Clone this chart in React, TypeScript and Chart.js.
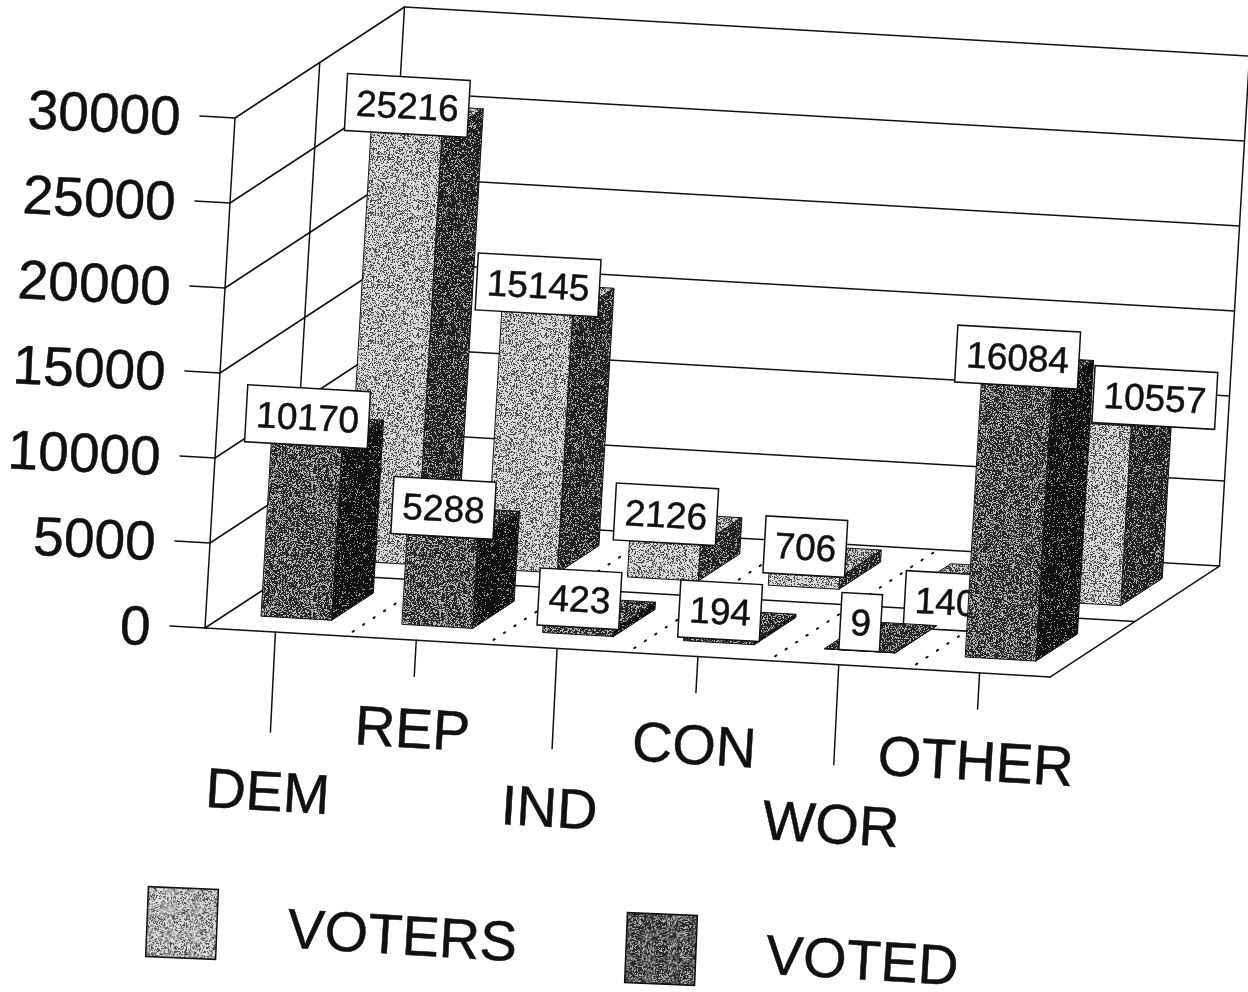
import React, { useEffect, useRef } from "react";
import { Chart, registerables } from "chart.js";

Chart.register(...registerables);

const categories = ["DEM", "REP", "IND", "CON", "WOR", "OTHER"];
const voters = [25216, 15145, 2126, 706, 140, 10557];
const voted = [10170, 5288, 423, 194, 9, 16084];
const legendLabels = ["VOTERS", "VOTED"];

const FONT = '"Liberation Sans", Arial, sans-serif';
const INK = "#111111";
const SLOPE = Math.atan(0.056);
const DEPTH = { x: 169.5, y: -111 };
const LEAN = 30 / 510;

function noiseTile(density: number, seed: number, base: number) {
  const size = 128;
  const c = document.createElement("canvas");
  c.width = size;
  c.height = size;
  const g = c.getContext("2d")!;
  const img = g.createImageData(size, size);
  let s = seed * 2654435761 + 88172645;
  for (let i = 0; i < size * size; i++) {
    s ^= s << 13;
    s ^= s >>> 17;
    s ^= s << 5;
    const r = (s >>> 0) / 4294967296;
    const v = r < density ? 255 : 0;
    const mixed = v * 0.55 + base * 0.45;
    img.data[i * 4] = mixed;
    img.data[i * 4 + 1] = mixed;
    img.data[i * 4 + 2] = mixed;
    img.data[i * 4 + 3] = 255;
  }
  g.putImageData(img, 0, 0);
  return c;
}

const faces3d = {
  id: "faces3d",
  beforeDatasetsDraw(chart: any) {
    const ctx: CanvasRenderingContext2D = chart.ctx;
    const xs = chart.scales.x;
    const ys = chart.scales.y;
    const zero = ys.getPixelForValue(0);
    const cw = xs.width / categories.length;

    // front-plane x pixel + depth (0..1) + value -> page position
    const project = (px: number, t: number, value: number) => {
      const h = zero - ys.getPixelForValue(value);
      const floorX = px + DEPTH.x * t;
      const floorY = zero + (px - xs.left) * 0.058 + DEPTH.y * t;
      return [floorX + h * LEAN, floorY - h] as [number, number];
    };
    const line = (a: number[], b: number[], w = 1.5) => {
      ctx.lineWidth = w;
      ctx.beginPath();
      ctx.moveTo(a[0], a[1]);
      ctx.lineTo(b[0], b[1]);
      ctx.stroke();
    };
    const poly = (pts: number[][], fill: any) => {
      ctx.beginPath();
      pts.forEach((p, i) => (i ? ctx.lineTo(p[0], p[1]) : ctx.moveTo(p[0], p[1])));
      ctx.closePath();
      ctx.fillStyle = fill;
      ctx.fill();
      ctx.strokeStyle = INK;
      ctx.lineWidth = 1;
      ctx.stroke();
    };
    const text = (s: string, x: number, y: number, size: number, rot: number, align: CanvasTextAlign = "center") => {
      ctx.save();
      ctx.translate(x, y);
      ctx.rotate(rot);
      ctx.font = `${size}px ${FONT}`;
      ctx.textAlign = align;
      ctx.textBaseline = "middle";
      ctx.fillStyle = INK;
      ctx.strokeStyle = INK;
      ctx.lineWidth = 0.5;
      ctx.fillText(s, 0, 0);
      ctx.strokeText(s, 0, 0);
      ctx.restore();
    };

    ctx.save();
    ctx.strokeStyle = INK;
    ctx.lineCap = "round";

    const L = xs.left;
    const R = xs.right;
    const ticks = ys.ticks.map((t: any) => t.value);
    const top = ys.max;

    // walls: gridlines, value ticks and labels
    ticks.forEach((v: number) => {
      const a = project(L, 0, v);
      const b = project(L, 1, v);
      const c = project(R, 1, v);
      line([a[0] - 35, a[1] - 2], a);
      line(a, b);
      line(b, c);
      text(String(v), a[0] - 54.5, a[1] + 2, 55, 0.045, "right");
    });
    line(project(L, 0, 0), project(L, 0, top));
    line(project(L, 0.5, 0), project(L, 0.5, top));
    line(project(L, 1, 0), project(L, 1, top));
    line(project(R, 1, 0), project(R, 1, top));

    // floor
    line(project(L, 0, 0), project(R, 0, 0));
    line(project(R, 0, 0), project(R, 1, 0));
    line(project(L, 0.5, 0), project(R, 0.5, 0));

    ctx.setLineDash([1.5, 11]);
    ctx.lineWidth = 2;
    for (let i = 1; i < categories.length; i++) {
      const px = L + i * cw;
      const a = project(px, 0.04, 0);
      const b = project(px, 0.98, 0);
      ctx.beginPath();
      ctx.moveTo(a[0], a[1]);
      ctx.lineTo(b[0], b[1]);
      ctx.stroke();
    }
    ctx.setLineDash([]);

    // category ticks and labels, staggered in two rows
    categories.forEach((name, i) => {
      const px = xs.getPixelForValue(i);
      const p = project(px, 0, 0);
      const long = i % 2 === 0;
      line(p, [p[0] - (long ? 5 : 2), p[1] + (long ? 100 : 36)]);
      text(name, p[0] - (long ? 8 : 4), p[1] + (long ? 163 : 92), 56, 0.06);
    });

    // bars: back row first, each bar followed by its label
    const rows = [
      { index: 0, near: 0.625, far: 0.87 },
      { index: 1, near: 0.125, far: 0.37 },
    ];
    const nudges: Record<string, number[]> = { "0:4": [0, 37], "0:5": [58, 2] };
    rows.forEach((row) => {
      const ds = chart.data.datasets[row.index];
      ds.data.forEach((v: number, i: number) => {
        const cx = xs.getPixelForValue(i);
        const x0 = cx - cw / 4;
        const x1 = cx + cw / 4;
        poly(
          [project(x1, row.near, 0), project(x1, row.far, 0), project(x1, row.far, v), project(x1, row.near, v)],
          ds.sideColor
        );
        poly(
          [project(x0, row.near, v), project(x1, row.near, v), project(x1, row.far, v), project(x0, row.far, v)],
          ds.topColor
        );
        poly(
          [project(x0, row.near, 0), project(x1, row.near, 0), project(x1, row.near, v), project(x0, row.near, v)],
          ds.backgroundColor
        );
        const c = project(cx, (row.near + row.far) / 2, v);
        const n = nudges[`${row.index}:${i}`] || [0, 0];
        const label = String(v);
        ctx.font = `37px ${FONT}`;
        const w = ctx.measureText(label).width + 20;
        const h = 57;
        ctx.save();
        ctx.translate(c[0] - 20 + n[0], c[1] - 15 + n[1]);
        ctx.rotate(SLOPE);
        ctx.fillStyle = "#ffffff";
        ctx.strokeStyle = INK;
        ctx.lineWidth = 1.5;
        ctx.fillRect(-w / 2, -h / 2, w, h);
        ctx.strokeRect(-w / 2, -h / 2, w, h);
        ctx.restore();
        text(label, c[0] - 20 + n[0], c[1] - 12 + n[1], 37, SLOPE);
      });
    });

    // legend
    const swatch = (x: number, y: number, fill: any) => {
      ctx.save();
      ctx.translate(x, y);
      ctx.rotate(0.04);
      ctx.fillStyle = fill;
      ctx.strokeStyle = INK;
      ctx.lineWidth = 1.5;
      ctx.fillRect(-35, -35, 70, 70);
      ctx.strokeRect(-35, -35, 70, 70);
      ctx.restore();
    };
    const sets = chart.data.datasets;
    swatch(182, 923, sets[0].backgroundColor);
    text(sets[0].label, 402, 939, 56, 0.06);
    swatch(661, 949, sets[1].backgroundColor);
    text(sets[1].label, 862, 964, 56, 0.06);

    ctx.restore();
    return false;
  },
};

export default function App() {
  const ref = useRef<HTMLCanvasElement>(null);
  useEffect(() => {
    document.body.style.margin = "0";
    document.body.style.background = "#ffffff";
    const g = ref.current!.getContext("2d")!;
    const fill = (density: number, seed: number, base: number) =>
      g.createPattern(noiseTile(density, seed, base), "repeat");
    const chart = new Chart(ref.current!, {
      type: "bar",
      data: {
        labels: categories,
        datasets: [
          {
            label: legendLabels[0],
            data: voters,
            backgroundColor: fill(0.66, 11, 170),
            sideColor: fill(0.22, 29, 70),
            topColor: fill(0.55, 47, 140),
          } as any,
          {
            label: legendLabels[1],
            data: voted,
            backgroundColor: fill(0.36, 71, 90),
            sideColor: fill(0.12, 97, 35),
            topColor: fill(0.3, 131, 80),
          } as any,
        ],
      },
      options: {
        responsive: false,
        animation: false,
        layout: { padding: { left: 205, right: 198, top: 118, bottom: 364 } },
        plugins: { legend: { display: false }, title: { display: false }, tooltip: { enabled: false } },
        scales: {
          x: { display: false, offset: true },
          y: { display: false, min: 0, max: 30000, ticks: { stepSize: 5000 } },
        },
      },
      plugins: [faces3d],
    } as any);
    return () => chart.destroy();
  }, []);
  return <canvas ref={ref} width={1248} height={992} style={{ display: "block" }} />;
}
